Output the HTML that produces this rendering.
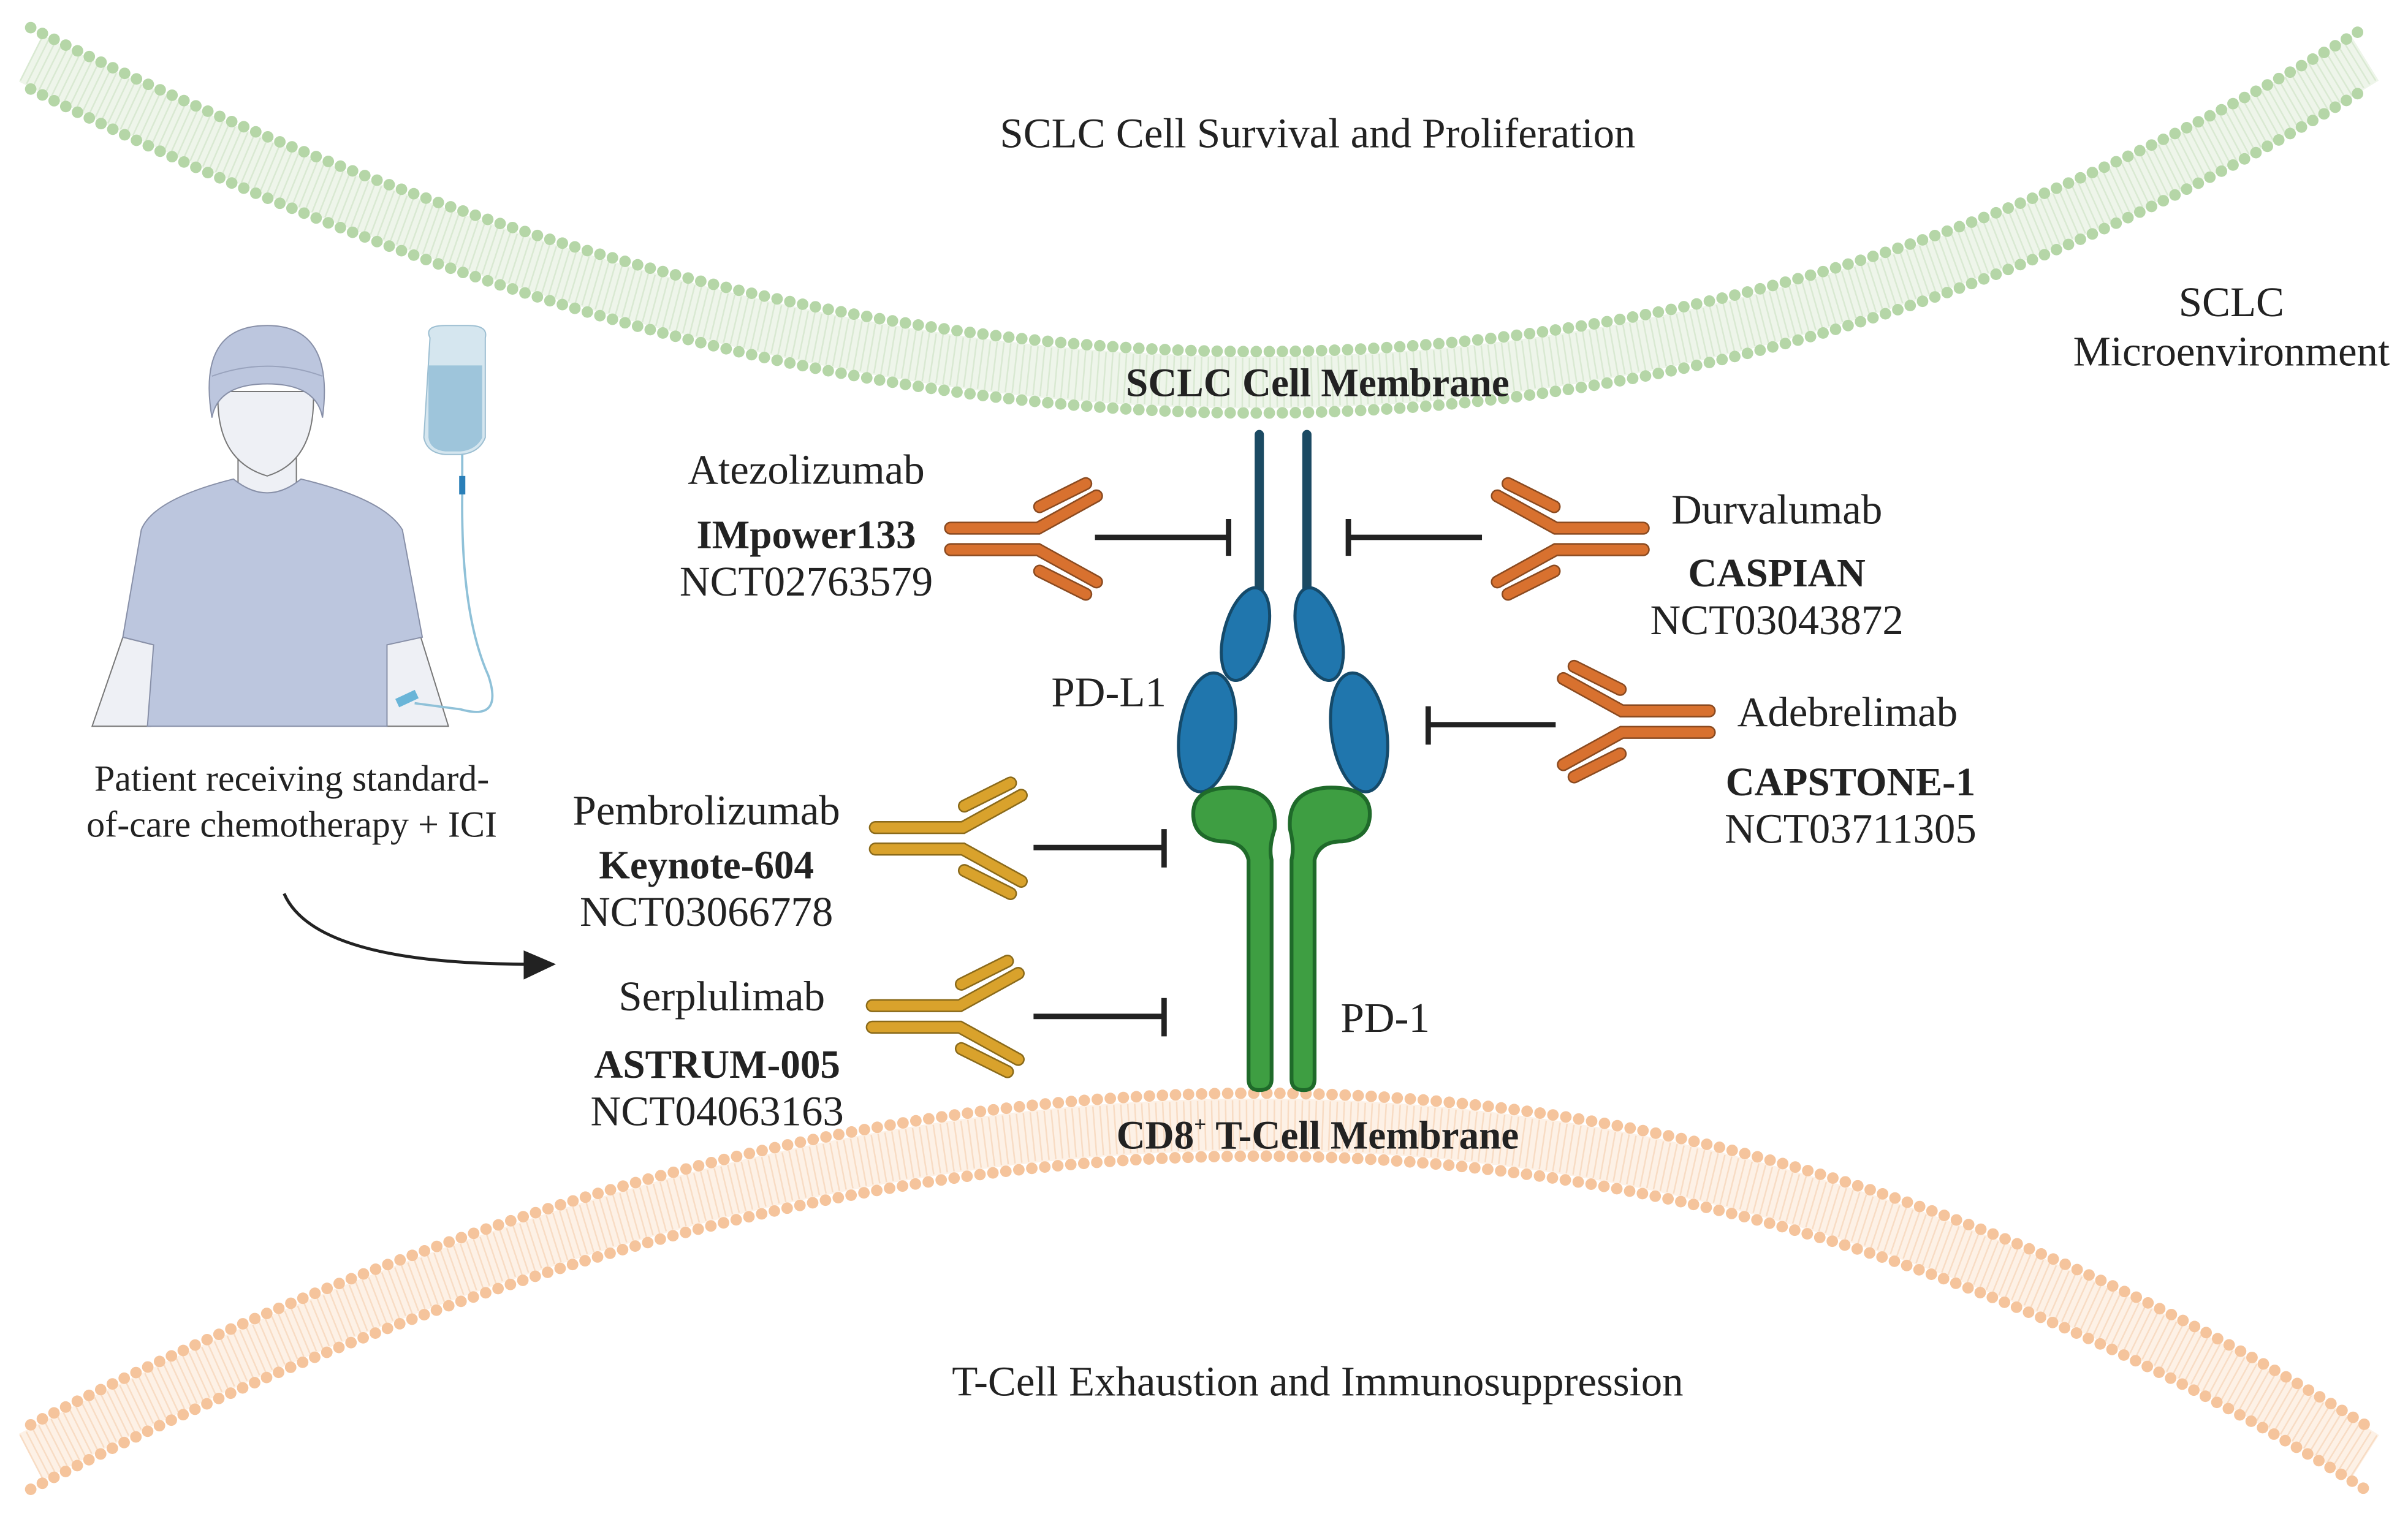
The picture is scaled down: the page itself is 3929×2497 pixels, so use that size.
<!DOCTYPE html>
<html><head><meta charset="utf-8"><style>
html,body{margin:0;padding:0;background:#fff}
svg{display:block}
text{font-family:"Liberation Serif",serif;fill:#222}
.b{font-weight:bold;font-size:26px}
</style></head><body>
<svg width="3929" height="2497" viewBox="0 0 1568 996.5" xmlns="http://www.w3.org/2000/svg">
<defs>
<g id="ab">
 <g stroke-linecap="round" fill="none">
  <g stroke="var(--o)" stroke-width="8.5">
   <path d="M2,-7 H59 L97,-28"/><path d="M2,7 H59 L97,28"/>
   <path d="M60,-21 L90,-36"/><path d="M60,21 L90,36"/>
  </g>
  <g stroke="var(--f)" stroke-width="6.5">
   <path d="M2,-7 H59 L97,-28"/><path d="M2,7 H59 L97,28"/>
   <path d="M60,-21 L90,-36"/><path d="M60,21 L90,36"/>
  </g>
 </g>
</g>
</defs>
<g fill="none">
 <path d="M20,38 Q858,460 1540,38" stroke="#eef5ea" stroke-width="34"/>
 <path d="M20,38 Q858,460 1540,38" stroke="#d9e9d2" stroke-width="32" stroke-dasharray="1 3.5"/>
 <path d="M20,18 Q858,440 1540,18" stroke="#b5d6a7" stroke-width="7.5" stroke-linecap="round" stroke-dasharray="0 8.5"/>
 <path d="M20,58 Q858,480 1540,58" stroke="#b5d6a7" stroke-width="7.5" stroke-linecap="round" stroke-dasharray="0 8.5"/>
</g>
<g fill="none">
 <path d="M20,949 Q858,516 1540,949" stroke="#fdf1e6" stroke-width="34"/>
 <path d="M20,949 Q858,516 1540,949" stroke="#f8dcc4" stroke-width="32" stroke-dasharray="1 3.5"/>
 <path d="M20,928 Q858,496 1540,928" stroke="#f5c49c" stroke-width="7.5" stroke-linecap="round" stroke-dasharray="0 8.5"/>
 <path d="M20,970 Q858,536 1540,970" stroke="#f5c49c" stroke-width="7.5" stroke-linecap="round" stroke-dasharray="0 8.5"/>
</g>

<g stroke-linecap="round">
 <line x1="820" y1="283" x2="820" y2="388" stroke="#1b4a63" stroke-width="6"/>
 <line x1="851" y1="283" x2="851" y2="388" stroke="#1b4a63" stroke-width="6"/>
</g>
<g fill="#2076ad" stroke="#154a6a" stroke-width="2">
 <ellipse cx="811" cy="413" rx="14" ry="31" transform="rotate(15 811 413)"/>
 <ellipse cx="786" cy="477" rx="18" ry="39" transform="rotate(8 786 477)"/>
 <ellipse cx="859" cy="413" rx="14" ry="31" transform="rotate(-15 859 413)"/>
 <ellipse cx="885" cy="477" rx="18" ry="39" transform="rotate(-8 885 477)"/>
</g>
<g fill="#3e9e42" stroke="#1f6a2a" stroke-width="2.5">
 <path d="M777,530 Q777,512 805,513 Q832,515 830,540 Q826,552 828,560 L828,703 Q828,710 820,710 Q813,710 813,703 L813,560 Q810,548 795,548 Q777,546 777,530 Z"/>
 <path d="M892,530 Q892,512 864,513 Q838,515 840,540 Q843,552 841,560 L841,703 Q841,710 849,710 Q856,710 856,703 L856,560 Q859,548 874,548 Q892,546 892,530 Z"/>
</g>

<use href="#ab" transform="translate(617,351)" style="--o:#8a4a20;--f:#d8712f"/>
<use href="#ab" transform="translate(1072,351) scale(-1,1)" style="--o:#8a4a20;--f:#d8712f"/>
<use href="#ab" transform="translate(1115,470) scale(-1,1)" style="--o:#8a4a20;--f:#d8712f"/>
<use href="#ab" transform="translate(568,546)" style="--o:#8a6a1a;--f:#d9a22c"/>
<use href="#ab" transform="translate(566,662)" style="--o:#8a6a1a;--f:#d9a22c"/>

<g stroke="#222" stroke-width="3.5" fill="none">
 <path d="M713,350 H800 M800,338 V362"/>
 <path d="M965,350 H878 M878,338 V362"/>
 <path d="M1013,472 H930 M930,460 V485"/>
 <path d="M673,552 H758 M758,540 V565"/>
 <path d="M673,662 H758 M758,650 V675"/>
 <path d="M185,582 Q205,628 345,628" stroke-width="2"/>
</g>
<path d="M362,628 L341,619 L341,638 Z" fill="#222"/>

<g stroke="#777" stroke-width="0.8">
 <path d="M80,415 L60,473 L98,473 L100,420 Z" fill="#eef0f5"/>
 <path d="M274,415 L292,473 L252,473 L250,420 Z" fill="#eef0f5"/>
 <path d="M155,285 L155,318 Q174,335 193,318 L193,285 Z" fill="#eef0f5"/>
 <path d="M96,473 L100,420 L80,415 L92,345 Q100,325 152,312 Q174,330 196,312 Q250,325 262,345 L275,415 L252,420 L252,473 Z" fill="#bcc6de" stroke="#8890a8"/>
 <path d="M142,255 Q140,300 174,310 Q206,300 204,255 Z" fill="#eef0f5"/>
 <path d="M138,272 Q128,212 174,212 Q218,212 210,272 Q206,250 174,250 Q142,250 138,272 Z" fill="#bcc6de" stroke="#8890a8"/>
 <path d="M138,245 Q174,232 210,245" fill="none" stroke="#99a3bd"/>
 <path d="M280,220 Q276,212 290,212 L305,212 Q318,212 316,220 L316,285 Q312,295 300,296 L290,296 Q278,295 276,285 Z" fill="#d5e6ef" stroke="#9dbfd2"/>
 <path d="M279,238 L314,238 L314,285 Q310,293 300,294 L290,294 Q280,293 279,285 Z" fill="#9ec5db" stroke="none"/>
 <path d="M301,296 V322 Q300,400 318,440 Q328,470 300,462 L270,458" stroke="#8fc1d8" stroke-width="1.5" fill="none"/>
 <rect x="299" y="310" width="4" height="12" fill="#2a7fb8" stroke="none"/>
 <rect x="258" y="452" width="14" height="6" fill="#6ab5d8" stroke="none" transform="rotate(-25 265 455)"/>
</g>

<g font-size="27.5" text-anchor="middle">
 <text x="858" y="96">SCLC Cell Survival and Proliferation</text>
 <text x="1453" y="206">SCLC</text>
 <text x="1453" y="238">Microenvironment</text>
 <text x="858" y="258" class="b">SCLC Cell Membrane</text>
 <text x="525" y="315">Atezolizumab</text>
 <text x="525" y="357" class="b">IMpower133</text>
 <text x="525" y="388">NCT02763579</text>
 <text x="1157" y="341">Durvalumab</text>
 <text x="1157" y="382" class="b">CASPIAN</text>
 <text x="1157" y="413">NCT03043872</text>
 <text x="722" y="460">PD-L1</text>
 <text x="1203" y="473">Adebrelimab</text>
 <text x="1205" y="518" class="b">CAPSTONE-1</text>
 <text x="1205" y="549">NCT03711305</text>
 <text x="460" y="537">Pembrolizumab</text>
 <text x="460" y="572" class="b">Keynote-604</text>
 <text x="460" y="603">NCT03066778</text>
 <text x="470" y="658">Serplulimab</text>
 <text x="467" y="702" class="b">ASTRUM-005</text>
 <text x="467" y="733">NCT04063163</text>
 <text x="902" y="672">PD-1</text>
 <text x="858" y="748" class="b">CD8<tspan font-size="14" dy="-11">+</tspan><tspan dy="11"> T-Cell Membrane</tspan></text>
 <text x="858" y="909">T-Cell Exhaustion and Immunosuppression</text>
 <text x="190" y="515" font-size="24">Patient receiving standard-</text>
 <text x="190" y="545" font-size="24">of-care chemotherapy + ICI</text>
</g>
</svg>
</body></html>
